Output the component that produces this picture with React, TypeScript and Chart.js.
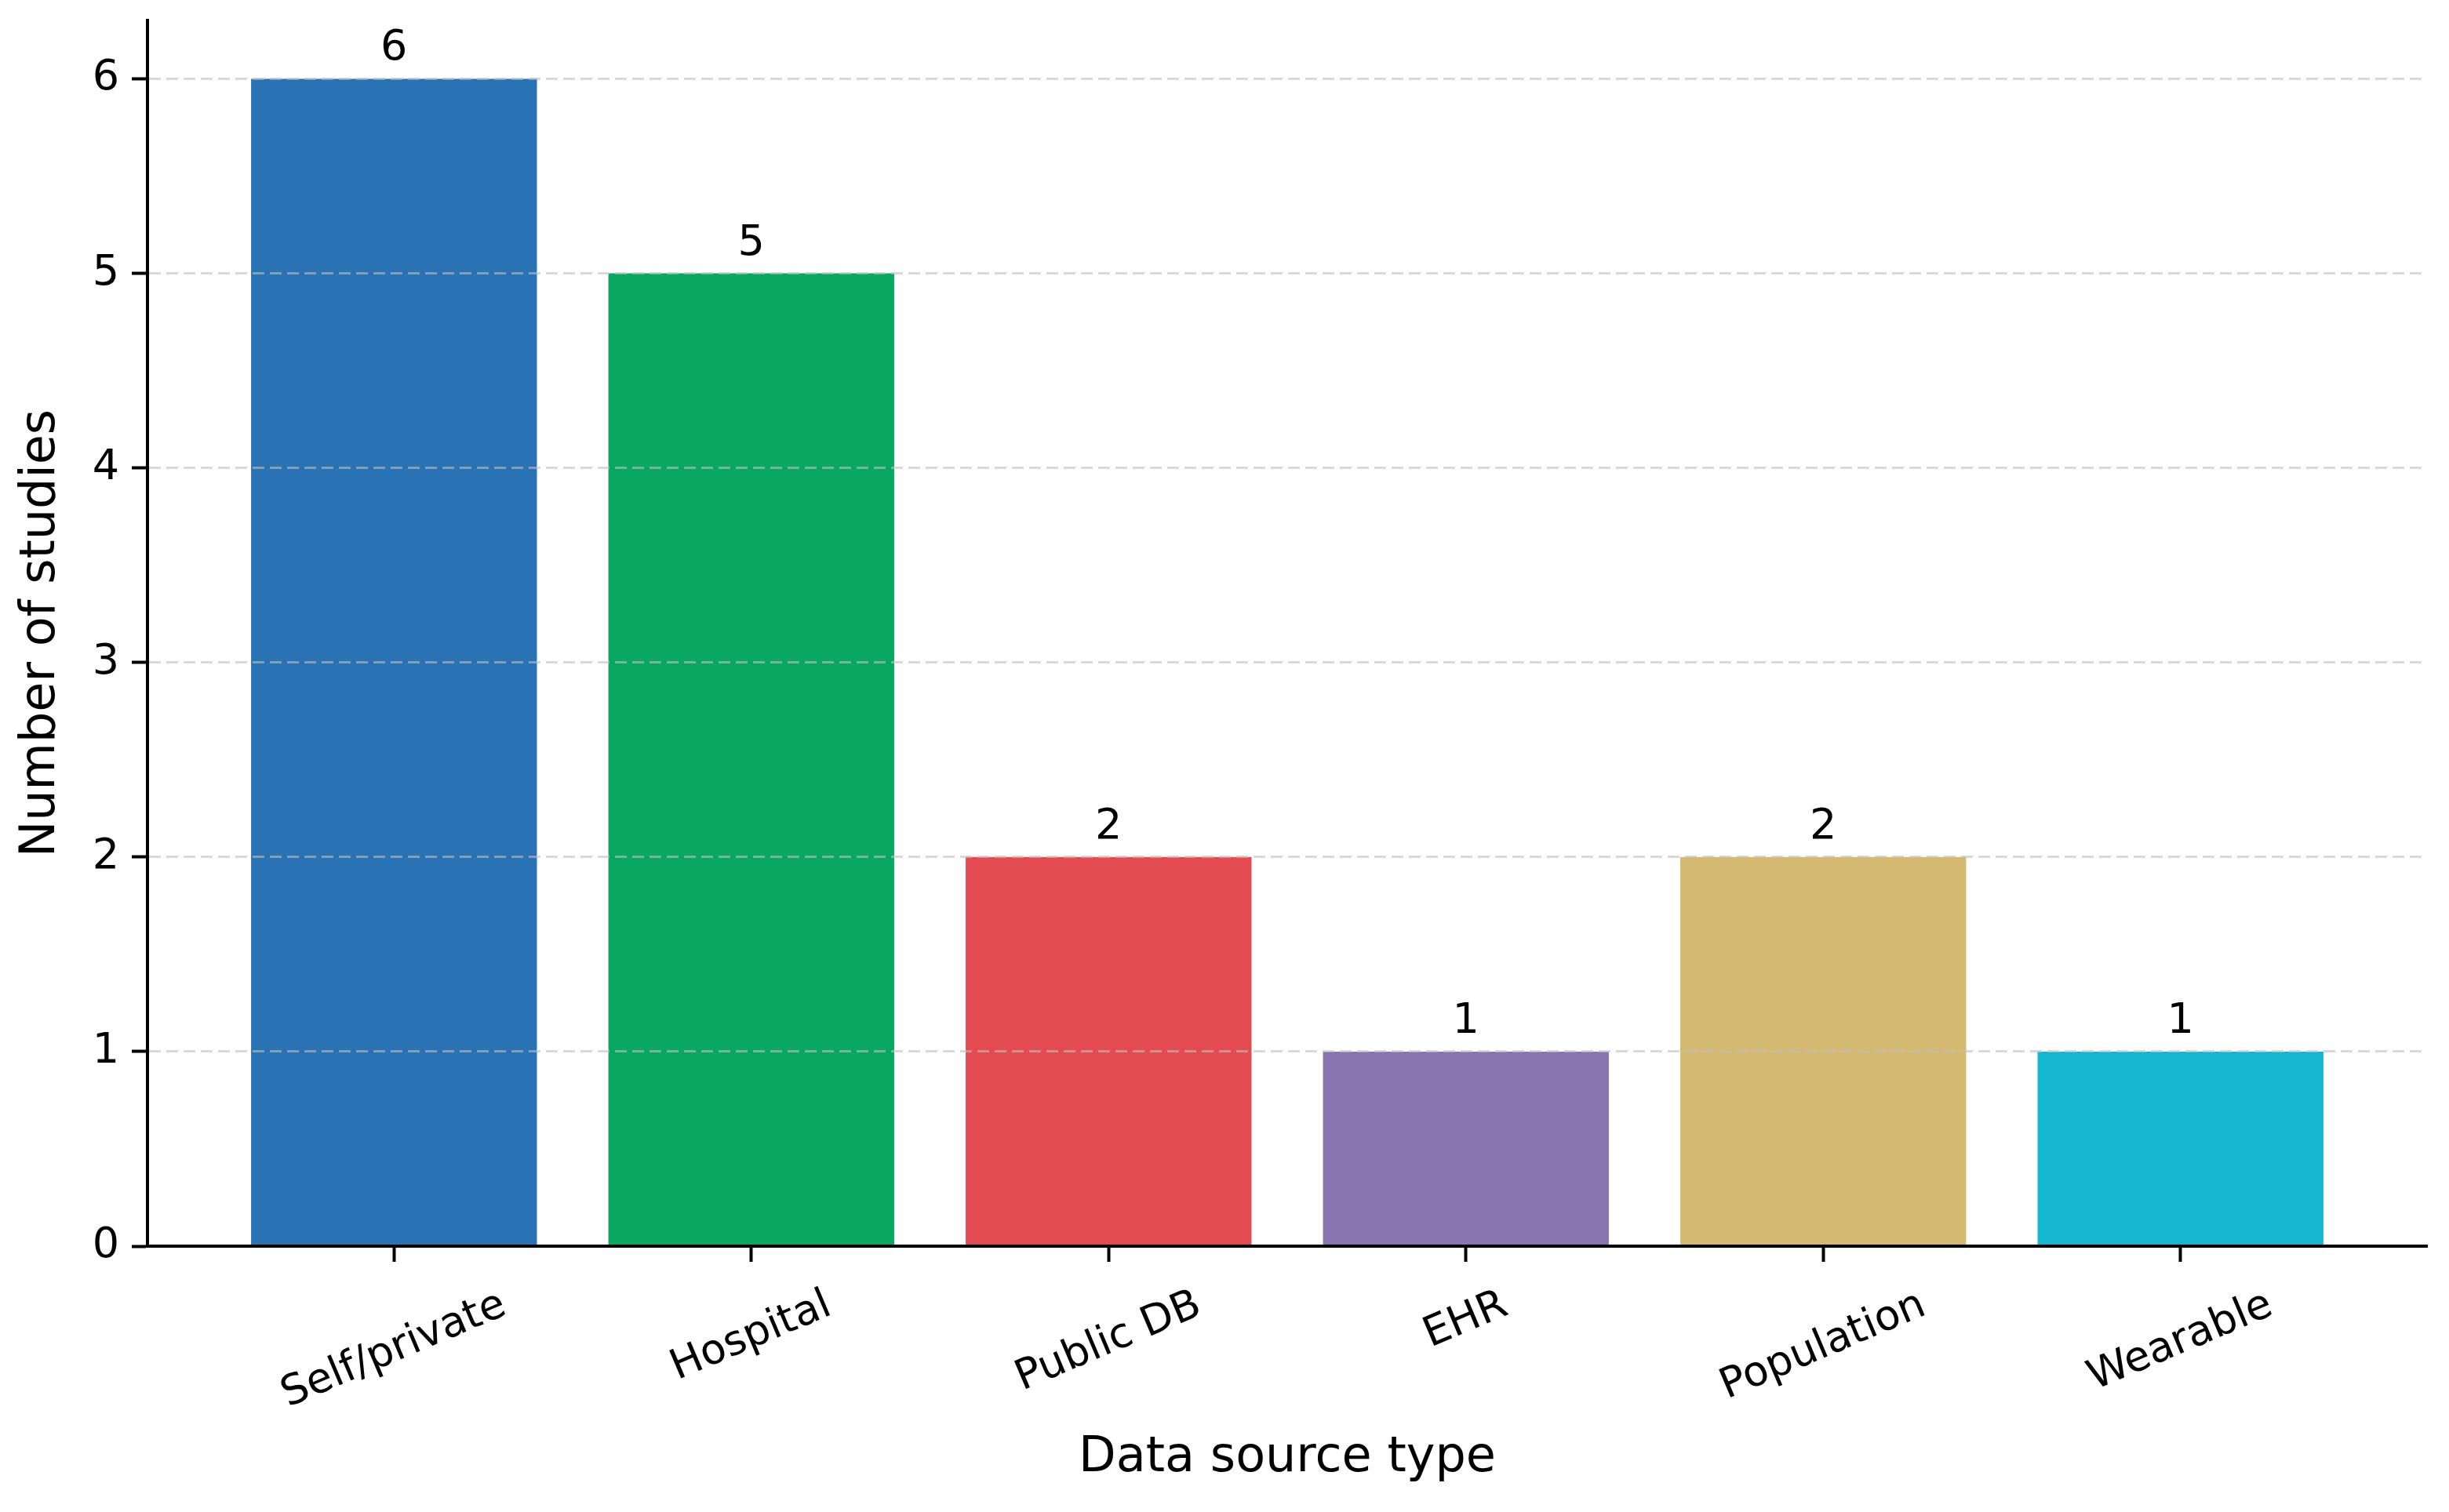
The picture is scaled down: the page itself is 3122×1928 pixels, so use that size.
import { useEffect, useRef } from "react";
import { Chart, registerables } from "chart.js";
import type { Plugin } from "chart.js";

Chart.register(...registerables);

const categories = ["Self/private", "Hospital", "Public DB", "EHR", "Population", "Wearable"];
const studyCounts = [6, 5, 2, 1, 2, 1];
const barColors = ["#2972b4", "#08a862", "#e34a52", "#8874b1", "#d4b971", "#14b6d2"];
const yTicks = [0, 1, 2, 3, 4, 5, 6];

const FONT = "'DejaVu Sans', sans-serif";
const W = 3122;
const H = 1928;

// value labels over bars + rotated category labels centred on each tick (matplotlib style)
const labelsPlugin: Plugin<"bar"> = {
  id: "barLabels",
  afterDraw(chart) {
    const { ctx } = chart;
    const xScale = chart.scales.x;
    const meta = chart.getDatasetMeta(0);

    ctx.save();
    ctx.fillStyle = "#000";
    ctx.font = `54px ${FONT}`;
    ctx.textAlign = "center";
    ctx.textBaseline = "alphabetic";
    meta.data.forEach((bar, i) => {
      ctx.fillText(String(studyCounts[i]), bar.x, bar.y - 24);
    });

    const angle = (23 * Math.PI) / 180;
    const top = xScale.top + 49;
    const size = 53;
    ctx.font = `${size}px ${FONT}`;
    ctx.textBaseline = "middle";
    categories.forEach((label, i) => {
      const w = ctx.measureText(label).width;
      const boxH = w * Math.sin(angle) + size * Math.cos(angle);
      ctx.save();
      ctx.translate(xScale.getPixelForValue(i), top + boxH / 2);
      ctx.rotate(-angle);
      ctx.fillText(label, 0, 0);
      ctx.restore();
    });
    ctx.restore();
  },
};

export default function App() {
  const canvasRef = useRef<HTMLCanvasElement>(null);
  const chartRef = useRef<Chart | null>(null);

  useEffect(() => {
    document.body.style.margin = "0";
    const canvas = canvasRef.current;
    if (!canvas) return;
    if (chartRef.current) chartRef.current.destroy();

    chartRef.current = new Chart(canvas, {
      type: "bar",
      data: {
        datasets: [
          {
            data: studyCounts.map((v, i) => ({ x: i, y: v })),
            backgroundColor: barColors,
            borderWidth: 0,
            barPercentage: 0.8,
            categoryPercentage: 1,
          },
        ],
      },
      options: {
        animation: false,
        responsive: true,
        maintainAspectRatio: false,
        layout: { padding: { left: 0, top: 26, right: W - 3094, bottom: 0 } },
        plugins: { legend: { display: false }, tooltip: { enabled: false } },
        scales: {
          x: {
            type: "linear",
            min: -0.69,
            max: 5.69,
            offset: false,
            afterBuildTicks: (s) => {
              s.ticks = categories.map((_, i) => ({ value: i }));
            },
            afterFit: (s) => {
              s.height = H - 1589;
            },
            ticks: { display: false },
            grid: {
              display: true,
              offset: false,
              drawOnChartArea: false,
              drawTicks: true,
              tickLength: 20,
              tickColor: "#000",
              tickWidth: 4,
            },
            border: { display: true, color: "#000", width: 4, z: 2 },
            title: {
              display: true,
              text: "Data source type",
              color: "#000",
              font: { family: FONT, size: 62, lineHeight: 1.2 },
              padding: { top: 0, bottom: 31 },
            },
          },
          y: {
            type: "linear",
            min: 0,
            max: 6.3,
            afterBuildTicks: (s) => {
              s.ticks = yTicks.map((v) => ({ value: v }));
            },
            afterFit: (s) => {
              s.width = 188;
            },
            ticks: {
              color: "#000",
              // small lineHeight so the label half-height doesn't push the chart area down
              font: { family: FONT, size: 54, lineHeight: 0.3 },
              padding: 16,
              callback: (v) => String(v),
            },
            grid: {
              z: 1,
              color: "rgba(190,190,190,0.6)",
              lineWidth: 3,
              tickColor: "#000",
              tickWidth: 4,
              tickLength: 20,
              tickBorderDash: [],
            },
            border: { display: true, color: "#000", width: 4, dash: [15, 7], z: 2 },
            title: {
              display: true,
              text: "Number of studies",
              color: "#000",
              font: { family: FONT, size: 62, lineHeight: 1.2 },
              padding: { top: 16, bottom: 0 },
            },
          },
        },
      },
      plugins: [labelsPlugin],
    });

    return () => {
      chartRef.current?.destroy();
      chartRef.current = null;
    };
  }, []);

  return (
    <div style={{ width: W, height: H, background: "#fff", position: "relative" }}>
      <canvas ref={canvasRef} />
    </div>
  );
}
